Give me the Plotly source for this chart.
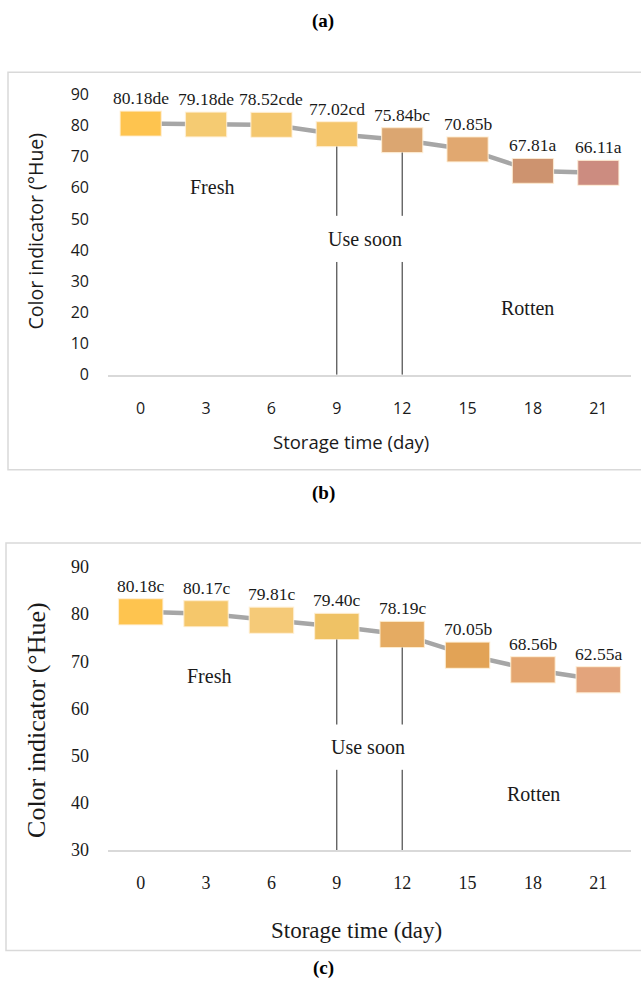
import plotly.graph_objects as go

# ---------------- data ----------------
days = ["0", "3", "6", "9", "12", "15", "18", "21"]
hue_b = [80.6, 80.3, 80.2, 77.2, 75.3, 72.3, 65.4, 64.8]
labels_b = ["80.18de", "79.18de", "78.52cde", "77.02cd", "75.84bc", "70.85b", "67.81a", "66.11a"]
colors_b = ["#FEC44F", "#F5CB72", "#F4C76E", "#F5C66C", "#DBA671", "#E1A870", "#CD936F", "#CC8C80"]

hue_c = [80.5, 80.1, 78.7, 77.4, 75.7, 71.3, 68.2, 66.1]
labels_c = ["80.18c", "80.17c", "79.81c", "79.40c", "78.19c", "70.05b", "68.56b", "62.55a"]
colors_c = ["#FEC44F", "#F5C76B", "#F5CA78", "#EFC265", "#E5AB62", "#E2A356", "#E4A670", "#E3A47C"]

ticks_b = [0, 10, 20, 30, 40, 50, 60, 70, 80, 90]
ticks_c = [30, 40, 50, 60, 70, 80, 90]

W, H = 641, 996
def px(x):
    return x / W
def py(y):
    return 1 - y / H

SANS = "Open Sans"
SERIF = "Liberation Serif"
TXT = "#1a1a1a"

fig = go.Figure()
idx = list(range(len(days)))

def add_panel(xa, ya, vals, labels, colors, box_w, box_h, label_size):
    xref = "x" if xa == 1 else f"x{xa}"
    yref = "y" if ya == 1 else f"y{ya}"
    # connecting line
    fig.add_trace(go.Scatter(x=idx, y=vals, mode="lines", xaxis=xref, yaxis=yref,
                             line=dict(color="#A6A6A6", width=4.5), hoverinfo="skip",
                             showlegend=False))
    for i, v in enumerate(vals):
        x0, x1 = i - box_w / 2, i + box_w / 2
        y0, y1 = v - box_h / 2, v + box_h / 2
        fig.add_trace(go.Scatter(x=[x0, x1, x1, x0, x0], y=[y0, y0, y1, y1, y0],
                                 mode="lines", fill="toself", fillcolor=colors[i],
                                 line=dict(color="rgba(255,240,215,0.8)", width=1.2),
                                 xaxis=xref, yaxis=yref, hoverinfo="skip",
                                 showlegend=False))
        fig.add_annotation(x=i, y=y1, xref=xref, yref=yref, text=labels[i],
                           showarrow=False, xanchor="center", yanchor="bottom", yshift=1,
                           font=dict(family=SERIF, size=label_size, color=TXT))

# panel (b)
add_panel(1, 1, hue_b, labels_b, colors_b, 0.63, 8.0, 17.5)
# panel (c)
add_panel(2, 2, hue_c, labels_c, colors_c, 0.68, 5.55, 17.5)

# vertical separators (days 9 and 12)
for xi in (3, 4):
    fig.add_shape(type="line", xref="x", yref="y", x0=xi, x1=xi, y0=0, y1=36.2,
                  line=dict(color="#262626", width=1))
    fig.add_shape(type="line", xref="x", yref="y", x0=xi, x1=xi, y0=51.0,
                  y1=hue_b[xi] - 4.0, line=dict(color="#262626", width=1))
    fig.add_shape(type="line", xref="x2", yref="y2", x0=xi, x1=xi, y0=30, y1=47.0,
                  line=dict(color="#262626", width=1))
    fig.add_shape(type="line", xref="x2", yref="y2", x0=xi, x1=xi, y0=56.6,
                  y1=hue_c[xi] - 2.78, line=dict(color="#262626", width=1))

# zone labels
for (xr, yr, x, y, t) in [("x", "y", 1.09, 60.3, "Fresh"), ("x", "y", 3.43, 43.5, "Use soon"),
                          ("x", "y", 5.92, 21.5, "Rotten"),
                          ("x2", "y2", 1.04, 66.8, "Fresh"), ("x2", "y2", 3.48, 51.9, "Use soon"),
                          ("x2", "y2", 6.01, 41.9, "Rotten")]:
    fig.add_annotation(x=x, y=y, xref=xr, yref=yr, text=t, showarrow=False,
                       xanchor="center", yanchor="middle",
                       font=dict(family=SERIF, size=20, color=TXT))

# frames
fig.add_shape(type="rect", xref="paper", yref="paper", x0=px(8), x1=px(660),
              y0=py(475), y1=py(73), line=dict(color="#D9D9D9", width=1.5), layer="below")
fig.add_shape(type="rect", xref="paper", yref="paper", x0=px(6), x1=px(660),
              y0=py(961), y1=py(549), line=dict(color="#D9D9D9", width=1.5), layer="below")

def paper_text(x, y, text, font, angle=0):
    fig.add_annotation(x=px(x), y=py(y), xref="paper", yref="paper", text=text,
                       textangle=angle, showarrow=False, xanchor="center",
                       yanchor="middle", font=font)

# panel captions
for (y, t) in [(21, "(a)"), (499, "(b)"), (979, "(c)")]:
    paper_text(323, y, f"<b>{t}</b>", dict(family=SERIF, size=19, color="#000"))

# axis titles
paper_text(35, 234, "Color indicator (°Hue)", dict(family=SANS, size=19.5, color=TXT), -90)
paper_text(351, 446, "Storage time (day)", dict(family=SANS, size=18.5, color=TXT))
paper_text(37, 728, "Color indicator (°Hue)", dict(family=SERIF, size=26, color=TXT), -90)
paper_text(356, 941, "Storage time (day)", dict(family=SERIF, size=23, color=TXT))

xcommon = dict(range=[-0.5, 7.5], tickmode="array", tickvals=idx, ticktext=days,
               showgrid=False, zeroline=False, showline=True, linecolor="#D9D9D9",
               linewidth=1.5, ticks="", fixedrange=True)
ycommon = dict(showgrid=False, zeroline=False, showline=False, ticks="", fixedrange=True,
               tickmode="array")

fig.update_layout(
    width=W, height=H, margin=dict(l=0, r=0, t=0, b=0),
    paper_bgcolor="white", plot_bgcolor="rgba(0,0,0,0)", showlegend=False,
    xaxis=dict(domain=[px(108), px(631)], anchor="y", ticklabelstandoff=18,
               tickfont=dict(family=SANS, size=16, color=TXT), **xcommon),
    yaxis=dict(domain=[py(379), py(379 - 95 * 3.152)], range=[0, 95], anchor="x",
               tickvals=ticks_b, ticklabelstandoff=18,
               tickfont=dict(family=SANS, size=16, color=TXT), **ycommon),
    xaxis2=dict(domain=[px(108), px(631)], anchor="y2", ticklabelstandoff=16,
                tickfont=dict(family=SERIF, size=18, color=TXT), **xcommon),
    yaxis2=dict(domain=[py(859.5), py(859.5 - 63 * 4.77)], range=[30, 93], anchor="x2",
                tickvals=ticks_c, ticklabelstandoff=18,
                tickfont=dict(family=SERIF, size=18, color=TXT), **ycommon),
)

fig.write_html("out.html")
